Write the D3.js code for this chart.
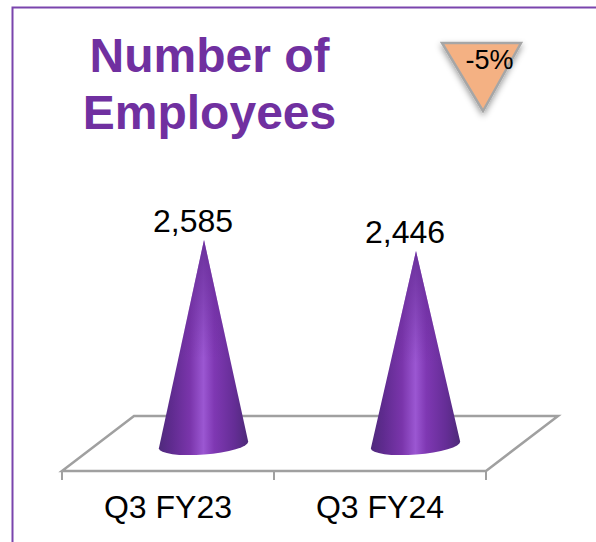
<!DOCTYPE html>
<html>
<head>
<meta charset="utf-8">
<script src="https://cdn.jsdelivr.net/npm/d3@7"></script>
<style>
  html, body { margin: 0; padding: 0; background: #fff; overflow: hidden; }
  text { font-family: "Liberation Sans", Arial, sans-serif; }
</style>
</head>
<body>
<div id="chart"></div>
<script>
const categories = ['Q3 FY23', 'Q3 FY24'];
const employees = [2585, 2446];
const titleLines = ['Number of', 'Employees'];
const changeLabel = '-5%';

const width = 596;
const height = 542;

const svg = d3.select('#chart').append('svg')
  .attr('width', width)
  .attr('height', height)
  .style('display', 'block');

const defs = svg.append('defs');

// cone shading, dark at the edges and light down the middle
const grad = defs.append('linearGradient').attr('id', 'coneFill');
[[0, '#4f2a7c'], [0.14, '#5f2b8f'], [0.35, '#7a35ab'], [0.5, '#9b57d2'], [0.62, '#7f38b3'], [0.85, '#642d95'], [1, '#4d2a78']]
  .forEach(s => grad.append('stop').attr('offset', s[0]).attr('stop-color', s[1]));

// the light band fades out toward the tip
const tipFade = defs.append('linearGradient').attr('id', 'tipFade')
  .attr('x1', 0).attr('y1', 0).attr('x2', 0).attr('y2', 1);
tipFade.append('stop').attr('offset', 0).attr('stop-color', '#662c96').attr('stop-opacity', 0.9);
tipFade.append('stop').attr('offset', 0.55).attr('stop-color', '#662c96').attr('stop-opacity', 0);

const shadow = defs.append('filter').attr('id', 'softShadow')
  .attr('x', '-30%').attr('y', '-30%').attr('width', '160%').attr('height', '170%');
shadow.append('feDropShadow')
  .attr('dx', 0).attr('dy', 3).attr('stdDeviation', 3)
  .attr('flood-color', '#000').attr('flood-opacity', 0.4);

// outer frame, open at the right and bottom edges
svg.append('path')
  .attr('d', `M12.5,${height} V7.5 H${width}`)
  .attr('fill', 'none')
  .attr('stroke', '#7a45ad')
  .attr('stroke-width', 2);

svg.append('g').selectAll('text')
  .data(titleLines)
  .enter().append('text')
  .attr('x', 209.5)
  .attr('y', (d, i) => 72 + i * 57)
  .attr('text-anchor', 'middle')
  .attr('fill', '#7030a0')
  .style('font-size', '48px')
  .style('font-weight', 700)
  .text(d => d);

// 3d floor geometry
const floorY = 471;
const backY = 416;
const depthX = 72;

const x = d3.scaleBand().domain(categories).range([62, 486]);
const y = d3.scaleLinear().domain([0, 2585]).range([445, 240]);

svg.append('path')
  .attr('d', `M${x.range()[0]},${floorY} H${x.range()[1]} L${x.range()[1] + depthX},${backY} H${x.range()[0] + depthX} Z`)
  .attr('fill', 'none')
  .attr('stroke', '#a0a0a0')
  .attr('stroke-width', 2.5);

const edges = categories.map(c => x(c)).concat(x.range()[1]);
svg.append('g').selectAll('line')
  .data(edges)
  .enter().append('line')
  .attr('x1', d => d)
  .attr('x2', d => d)
  .attr('y1', floorY)
  .attr('y2', floorY + 9)
  .attr('stroke', '#a0a0a0')
  .attr('stroke-width', 2);

const axis = svg.append('g')
  .attr('transform', `translate(0,${floorY})`)
  .call(d3.axisBottom(x).tickSize(0).tickPadding(24));
axis.select('.domain').remove();
axis.selectAll('text')
  .style('font-family', '"Liberation Sans", Arial, sans-serif')
  .style('font-size', '32px')
  .attr('fill', '#000');

// cones, base ellipse is slightly tilted
const coneX = d => x(d) + x.bandwidth() / 2 + depthX / 2;
const rx = 44.8;
const ry = 9.5;
const tilt = -4.5;
const rad = tilt * Math.PI / 180;

const conePath = (c, i) => {
  const cx = coneX(c) - 0.5;
  const x0 = cx - rx * Math.cos(rad);
  const y0 = y(0) - rx * Math.sin(rad);
  const x1 = cx + rx * Math.cos(rad);
  const y1 = y(0) + rx * Math.sin(rad);
  return `M${coneX(c)},${y(employees[i])} L${x1},${y1} A${rx},${ry} ${tilt} 0 1 ${x0},${y0} Z`;
};

svg.append('g').selectAll('path')
  .data(categories)
  .enter().append('path')
  .attr('d', conePath)
  .attr('fill', 'url(#coneFill)');

svg.append('g').selectAll('path')
  .data(categories)
  .enter().append('path')
  .attr('d', conePath)
  .attr('fill', 'url(#tipFade)');

// value labels sit a little left of the cone tips
svg.append('g').selectAll('text')
  .data(categories)
  .enter().append('text')
  .attr('x', c => coneX(c) - 11)
  .attr('y', (c, i) => y(employees[i]) - 8)
  .attr('text-anchor', 'middle')
  .attr('fill', '#000')
  .style('font-size', '32px')
  .text((c, i) => d3.format(',')(employees[i]));

// change badge
svg.append('path')
  .attr('d', 'M442,43 H521 L483,111 Z')
  .attr('fill', '#f4b183')
  .attr('stroke', '#a6a6a6')
  .attr('stroke-width', 2.5)
  .attr('filter', 'url(#softShadow)');

svg.append('text')
  .attr('x', 489.5)
  .attr('y', 69)
  .attr('text-anchor', 'middle')
  .attr('fill', '#000')
  .style('font-size', '27px')
  .text(changeLabel);
</script>
</body>
</html>
